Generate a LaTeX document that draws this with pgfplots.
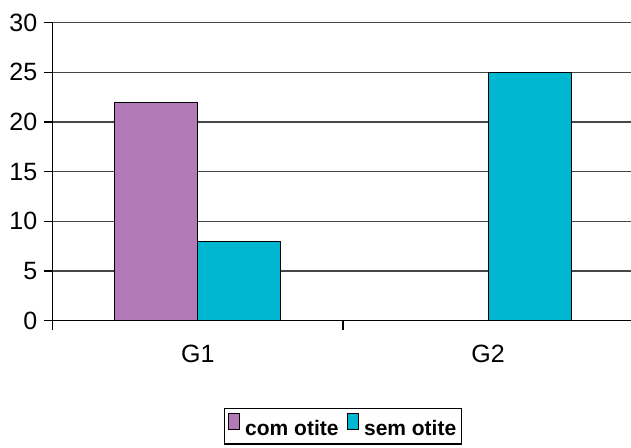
\documentclass[border=0pt]{standalone}
\usepackage{fontspec}
\setmainfont{Liberation Sans}
\usepackage{pgfplots}
\pgfplotsset{compat=1.18}
\definecolor{cpurple}{RGB}{178,122,182}
\definecolor{ccyan}{RGB}{0,183,209}
\definecolor{cgrid}{RGB}{70,70,70}
\begin{document}
\begin{tikzpicture}
\begin{axis}[
  at={(0,0)}, anchor=south west,
  scale only axis, width=580.6pt, height=298pt,
  xmin=-0.5, xmax=1.5, ymin=0, ymax=30,
  ytick={0,5,...,30},
  xtick={-0.5,0.5,1.5},
  x tick label as interval,
  xticklabels={G1,G2},
  axis x line*=bottom, axis y line*=left,
  axis line style={black, line width=1.2pt},
  tick align=outside, major tick length=9pt,
  tick style={black, line width=1.2pt},
  ymajorgrids, grid style={cgrid, line width=1.2pt},
  /pgf/number format/assume math mode=true,
  ticklabel style={font=\fontsize{25}{28}\selectfont},
  xticklabel style={yshift=-12pt},
  yticklabel style={xshift=-3pt},
  ybar=0pt, bar width=83pt,
  legend columns=2,
  legend style={at={(0.5,-0.292)}, anchor=north, draw=black, line width=1.2pt,
    font=\bfseries\fontsize{21}{24}\selectfont, inner xsep=3pt, inner ysep=5pt,
    /tikz/every even column/.append style={column sep=6pt}},
  legend image code/.code={\fill[#1,draw=none] (0pt,-1pt) rectangle (11pt,15pt);
    \draw[black,line width=0.8pt,fill=none] (0pt,-1pt) rectangle (11pt,15pt);
    \path[draw=none,fill=none] (15pt,0pt) circle (0.1pt);},
]
\addplot[fill=cpurple, draw=black, line width=0.8pt] coordinates {(0,22)};
\addplot[fill=ccyan, draw=black, line width=0.8pt] coordinates {(0,8) (1,25)};
\legend{com otite, sem otite}
\end{axis}
\pgfresetboundingbox
\path (-52.7pt,-126.3pt) rectangle (578.3pt,320.7pt);
\end{tikzpicture}
\end{document}
